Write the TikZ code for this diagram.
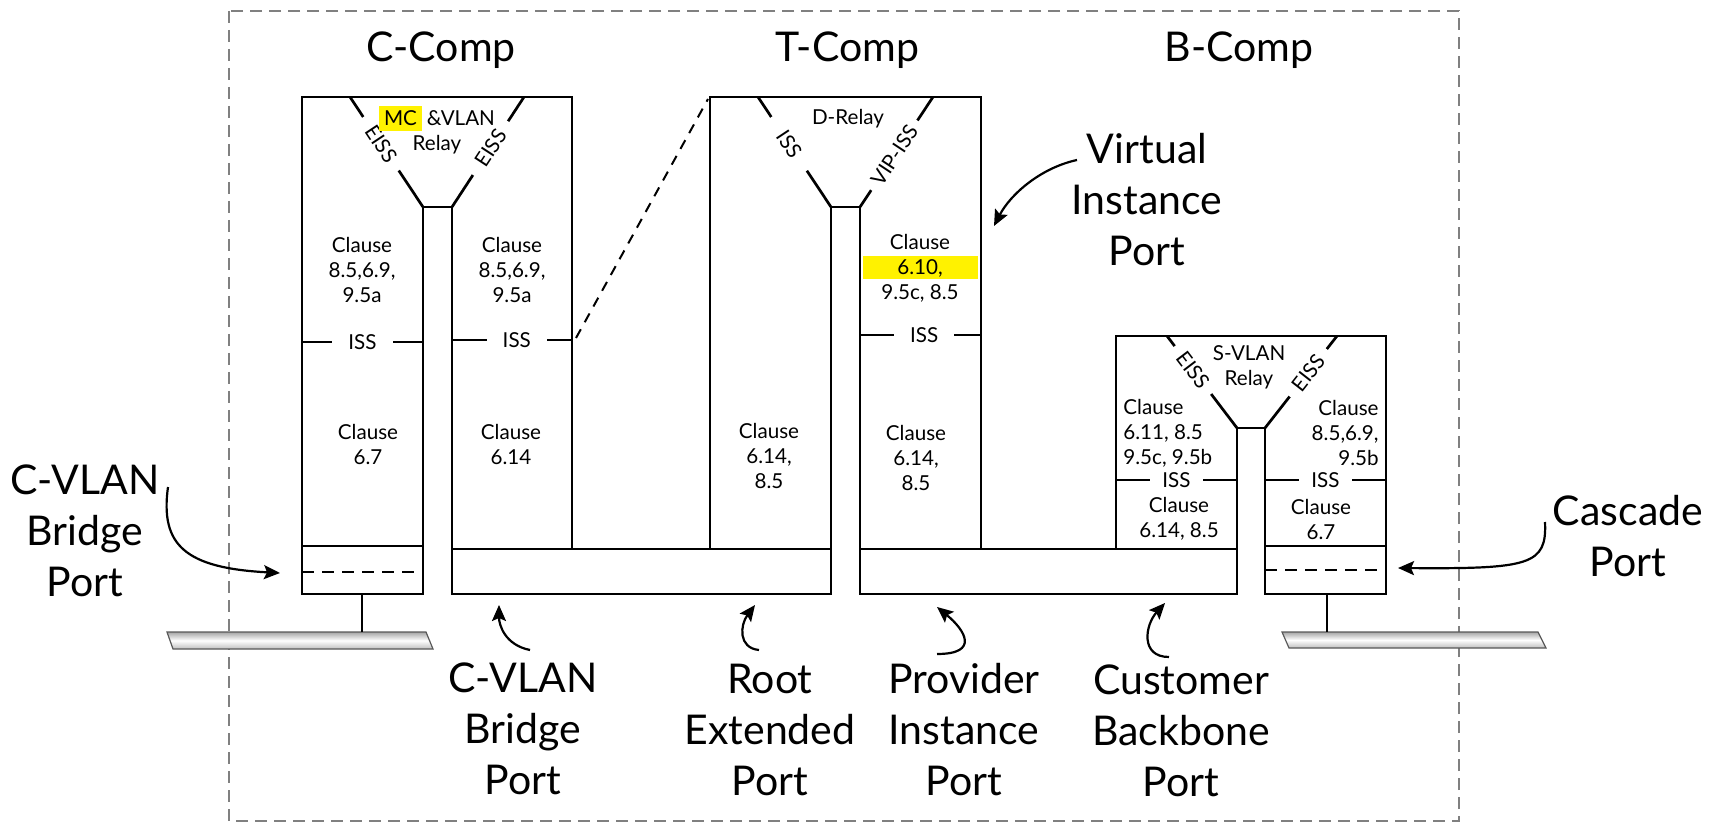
\documentclass[tikz,border=0pt]{standalone}
\usepackage{fontspec}
\setmainfont{Lato}
\usetikzlibrary{arrows.meta}

\begin{document}
\begin{tikzpicture}[x=0.5pt,y=-0.5pt, %Componentes C, T y B con sus puertos
    box/.style={line width=1.35pt},
    portline/.style={line width=1pt,dash pattern=on 6pt off 4pt},
    big/.style={align=center,inner sep=0pt,font=\fontsize{20.5}{25.5}\selectfont},
    small/.style={align=center,inner sep=0pt,font=\fontsize{10.3}{12.5}\selectfont},
    cut/.style={small,fill=white,inner xsep=8pt,inner ysep=1pt},
    pointer/.style={line width=1.1pt,-{Stealth[length=8pt,width=7pt,inset=1.5pt]}},
    cable/.style={draw=gray!70!black,line width=0.6pt,top color=gray!70,bottom color=gray!50,middle color=white}]

            \useasboundingbox (0,0) rectangle (1729,823);
            \draw[gray,line width=1pt,dash pattern=on 6pt off 3.5pt] (229,11) rectangle (1459,821);

            % C-Comp
            \coordinate (CA) at (302,97);
            \coordinate (CB) at (572,97);
            \coordinate (CC) at (423,207);
            \coordinate (CD) at (452,207);

            % T-Comp
            \coordinate (TA) at (710,97);
            \coordinate (TB) at (981,97);
            \coordinate (TC) at (831,207);
            \coordinate (TD) at (860,207);

            % B-Comp
            \coordinate (BA) at (1116,336);
            \coordinate (BB) at (1386,336);
            \coordinate (BC) at (1237,428);
            \coordinate (BD) at (1265,428);

            \fill[yellow] (863,256) rectangle (978,279);

            \draw[box] (CC) -- (423,594) -- (302,594) -- (CA) -- (CB) -- (572,549);
            \draw[box] (CC) -- (CD) -- (452,594) -- (831,594) -- (TC) -- (TD) -- (860,594)
                -- (1237,594) -- (BC) -- (BD) -- (1265,594) -- (1386,594) -- (BB) -- (BA) -- (1116,549);
            \draw[box] (710,549) -- (TA) -- (TB) -- (981,549);
            \draw[box] (452,549) -- (831,549);
            \draw[box] (860,549) -- (1237,549);

            \draw[box] (302,546) -- (423,546);
            \draw[portline] (302,572) -- (423,572);
            \draw[box] (1265,546) -- (1386,546);
            \draw[portline] (1265,570) -- (1386,570);

            \draw[dash pattern=on 5pt off 4pt,line width=1pt] (576,338) -- (708,99);

            \draw[box] (350,97) -- (CC) node[cut,sloped,pos=0.425,inner xsep=6pt] (eissA) {EISS};
            \draw[box] (CD) -- (524,97) node[cut,sloped,pos=0.535,inner xsep=6pt] (eissB) {EISS};
            \draw[box] (758,97) -- (TC) node[cut,sloped,pos=0.426,inner xsep=9pt] (issT) {ISS};
            \draw[box] (TD) -- (933,97) node[cut,sloped,pos=0.47,inner xsep=4pt] (vipiss) {VIP-ISS};
            \draw[box] (1167,336) -- (BC) node[cut,sloped,pos=0.37,inner xsep=5pt] (eissC) {EISS};
            \draw[box] (BD) -- (1337,336) node[cut,sloped,pos=0.6,inner xsep=5pt] (eissD) {EISS};

            \draw[box] (302,342) -- (423,342) node[cut,midway] (issA) {ISS};
            \draw[box] (452,340) -- (572,340) node[cut,pos=0.54] (issB) {ISS};
            \draw[box] (860,335) -- (981,335) node[cut,pos=0.53] (issC) {ISS};
            \draw[box] (1116,480) -- (1237,480) node[cut,midway,inner xsep=6pt] (issD) {ISS};
            \draw[box] (1265,480) -- (1386,480) node[cut,midway,inner xsep=6pt] (issE) {ISS};

            \node[small] (relA) at (437,130) {{\fboxsep=2.5pt\colorbox{yellow}{MC}}\hspace{2.5pt}\&VLAN\\Relay};
            \node[small] (relB) at (848,119) {D-Relay};
            \node[small] (relC) at (1249,367) {S-VLAN\\Relay};

            \node[small] (clA) at (362,270) {Clause\\8.5,6.9,\\9.5a};
            \node[small] (clB) at (512,270) {Clause\\8.5,6.9,\\9.5a};
            \node[small] (clC) at (368,444) {Clause\\6.7};
            \node[small] (clD) at (511,444) {Clause\\6.14};
            \node[small] (clE) at (769,456) {Clause\\6.14,\\8.5};
            \node[small] (clF) at (920,268) {Clause\\6.10,\\9.5c, 8.5};
            \node[small] (clG) at (916,458) {Clause\\6.14,\\8.5};
            \node[small,anchor=west,align=left] (clH) at (1123,433) {Clause\\6.11, 8.5\\9.5c, 9.5b};
            \node[small,anchor=east,align=right] (clI) at (1379,433) {Clause\\8.5,6.9,\\9.5b};
            \node[small] (clJ) at (1179,519) {Clause\\6.14, 8.5};
            \node[small] (clK) at (1321,519) {Clause\\6.7};

            \coordinate (stA) at (362,594);
            \coordinate (stB) at (1327,594);
            \draw[cable] (167,632) -- (426,632) -- (433,649) -- (173,649) -- cycle;
            \draw[cable] (1282,632) -- (1538,632) -- (1546,648) -- (1289,648) -- cycle;
            \draw[line width=1pt] (stA) -- (362,632);
            \draw[line width=1pt] (stB) -- (1327,632);

            \node[big,anchor=base] (cc) at (441,62) {C-Comp};
            \node[big,anchor=base] (tc) at (847,62) {T-Comp};
            \node[big,anchor=base] (bc) at (1239,62) {B-Comp};

            \node[big] (vip) at (1147,200) {Virtual\\Instance\\Port};
            \node[big] (cbpL) at (85,531) {C-VLAN\\Bridge\\Port};
            \node[big] (cas) at (1628,536) {Cascade\\Port};
            \node[big] (cbpB) at (523,729) {C-VLAN\\Bridge\\Port};
            \node[big] (rep) at (770,730) {Root\\Extended\\Port};
            \node[big] (pip) at (964,730) {Provider\\Instance\\Port};
            \node[big] (cbb) at (1181,731) {Customer\\Backbone\\Port};

            \coordinate (vipS) at (1077,160);
            \coordinate (vipT) at (994,226);
            \coordinate (cbpLS) at (168,487);
            \coordinate (cbpLT) at (280,573);
            \coordinate (casS) at (1545,522);
            \coordinate (casT) at (1398,568);
            \coordinate (cbpBS) at (530,650);
            \coordinate (cbpBT) at (499,605);
            \coordinate (repS) at (759,650);
            \coordinate (repT) at (755,605);
            \coordinate (pipS) at (937,654);
            \coordinate (pipT) at (937,607);
            \coordinate (cbbS) at (1169,657);
            \coordinate (cbbT) at (1165,603);

            \draw[pointer] (vipS) .. controls (1040,168) and (1010,195) .. (vipT);
            \draw[pointer] (cbpLS) .. controls (160,545) and (185,568) .. (cbpLT);
            \draw[pointer] (casS) .. controls (1547,565) and (1530,569) .. (casT);
            \draw[pointer] (cbpBS) .. controls (505,645) and (499,625) .. (cbpBT);
            \draw[pointer] (repS) .. controls (738,648) and (740,625) .. (repT);
            \draw[pointer] (pipS) .. controls (980,654) and (965,630) .. (pipT);
            \draw[pointer] (cbbS) .. controls (1140,657) and (1145,625) .. (cbbT);
        \end{tikzpicture}
\end{document}
